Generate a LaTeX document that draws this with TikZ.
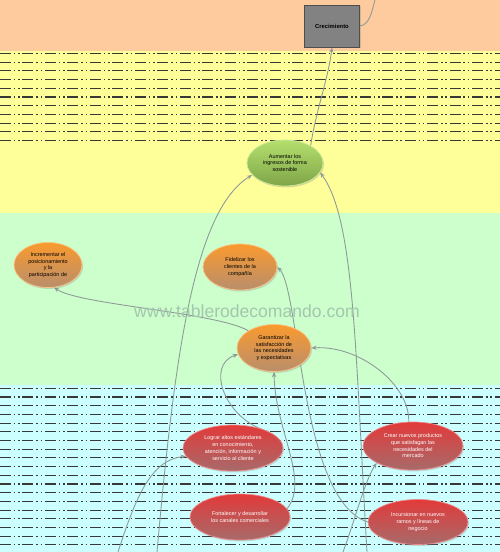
\documentclass[tikz,border=0pt]{standalone}
\usepackage{fontspec}
\setmainfont{Liberation Sans}
\usetikzlibrary{arrows.meta,shapes.geometric,shadows}
\definecolor{peach}{HTML}{FDCB9D}
\definecolor{lemon}{HTML}{FFFF99}
\definecolor{mint}{HTML}{CCFFCC}
\definecolor{aqua}{HTML}{CCFFFF}
\definecolor{wiregray}{HTML}{8E9A98}
\definecolor{wmgray}{HTML}{A4C6AE}
\definecolor{boxgray}{HTML}{828282}
\definecolor{leaftop}{HTML}{B4E06E}
\definecolor{leafbot}{HTML}{7FA548}
\definecolor{ambertop}{HTML}{FA9A2E}
\definecolor{amberbot}{HTML}{B98E6C}
\definecolor{redtop}{HTML}{E23A3A}
\definecolor{redbot}{HTML}{A86A6A}
\pgfdeclarelayer{back}
\pgfdeclarelayer{wires}
\pgfsetlayers{back,wires,main}

\begin{document}
\begin{tikzpicture}[x=0.02cm,y=-0.02cm,font=\sffamily,>={Stealth[length=3pt,width=2.4pt]},
  goal/.style={ellipse,inner sep=0pt,align=center,
    font=\fontsize{3.1}{3.8}\selectfont,
    drop shadow={opacity=.3,shadow xshift=.6pt,shadow yshift=-.8pt}},
  leafgoal/.style={goal,draw=leaftop!70!white,top color=leaftop,bottom color=leafbot},
  ambergoal/.style={goal,draw=ambertop!60!white,top color=ambertop,bottom color=amberbot},
  redgoal/.style={goal,draw=redtop!60!white,top color=redtop,bottom color=redbot,text=white},
  box/.style={draw=boxgray!60!black,fill=boxgray,minimum width=1.1cm,minimum height=.84cm,
    font=\bfseries\fontsize{3.3}{4}\selectfont,
    drop shadow={opacity=.3,shadow xshift=.6pt,shadow yshift=-.8pt}},
  link/.style={draw=wiregray,line width=.5pt},
  sepline/.style={line width=.6pt,black!78,
    dash pattern=on 6.2pt off 1.6pt on .9pt off 1.6pt on .9pt off 1.6pt}]
  \useasboundingbox (0,0) rectangle (500,552);

  \begin{pgfonlayer}{back}
    \fill[peach] (0,0) rectangle (500,51);
    \fill[lemon] (0,51) rectangle (500,213);
    \fill[mint] (0,213) rectangle (500,385);
    \fill[aqua] (0,385) rectangle (500,552);
    \foreach \k in {0,...,10}
      \draw[sepline] (0,53.3+8.74*\k) -- (500,53.3+8.74*\k);
    \foreach \k in {0,...,18}
      \draw[sepline] (0,388.3+8.7*\k) -- (500,388.3+8.7*\k);
  \end{pgfonlayer}

  \node[box] (crec) at (332,26) {Crecimiento};
  \node[leafgoal,minimum width=1.52cm,minimum height=.92cm] (aum) at (285,163)
    {Aumentar los\\ingresos de forma\\sostenible};
  \node[ambergoal,minimum width=1.36cm,minimum height=.9cm] (incr) at (48,265)
    {Incrementar el\\posicionamiento\\y la\\participación de};
  \node[ambergoal,minimum width=1.48cm,minimum height=.92cm] (fid) at (240,267)
    {Fidelizar los\\clientes de la\\compañía};
  \node[ambergoal,minimum width=1.48cm,minimum height=.94cm] (gar) at (274,348)
    {Garantizar la\\satisfacción de\\las necesidades\\y expectativas};
  \node[redgoal,minimum width=2cm,minimum height=.92cm] (logr) at (233,448)
    {Lograr altos estándares\\en conocimiento,\\atención, información y\\servicio al cliente};
  \node[redgoal,minimum width=2cm,minimum height=.96cm] (crear) at (413,446)
    {Crear nuevos productos\\que satisfagan las\\necesidades del\\mercado};
  \node[redgoal,minimum width=2cm,minimum height=.92cm] (fort) at (240,517)
    {Fortalecer y desarrollar\\los canales comerciales};
  \node[redgoal,minimum width=2cm,minimum height=.9cm] (incur) at (418,522)
    {Incursionar en nuevos\\ramos y líneas de\\negocio};
  \node[text=wmgray,font=\fontsize{10}{12}\selectfont] (site) at (247,311)
    {www.tablerodecomando.com};

  \coordinate (up) at (375,0);
  \coordinate (downA) at (157,552);
  \coordinate (downB) at (118,552);
  \coordinate (downC) at (343,552);
  \coordinate (downD) at (367,552);

  \begin{pgfonlayer}{wires}
    \draw[link] (crec.east) .. controls (370,25) and (372,10) .. (up);
    \draw[link,->] (aum.34) .. controls (316,110) and (328,80) .. (crec.south);
    \draw[link,->] (downA) .. controls (175,350) and (195,210) .. (aum.200);
    \draw[link,->] (downD) .. controls (355,350) and (355,220) .. (aum.-15);
    \draw[link,->] (gar.146) .. controls (215,312) and (80,305) .. (incr.-75);
    \draw[link,->] (incur.west) .. controls (300,500) and (300,290) .. (fid.east);
    \draw[link,->] (logr.25) .. controls (225,420) and (205,365) .. (gar.190);
    \draw[link,->] (fort.10) .. controls (310,480) and (275,430) .. (gar.south);
    \draw[link,->] (crear.100) .. controls (410,385) and (360,345) .. (gar.east);
    \draw[link,->] (downB) .. controls (135,500) and (150,460) .. (logr.190);
    \draw[link,->] (downC) .. controls (355,520) and (365,480) .. (crear.205);
  \end{pgfonlayer}
\end{tikzpicture}
\end{document}
